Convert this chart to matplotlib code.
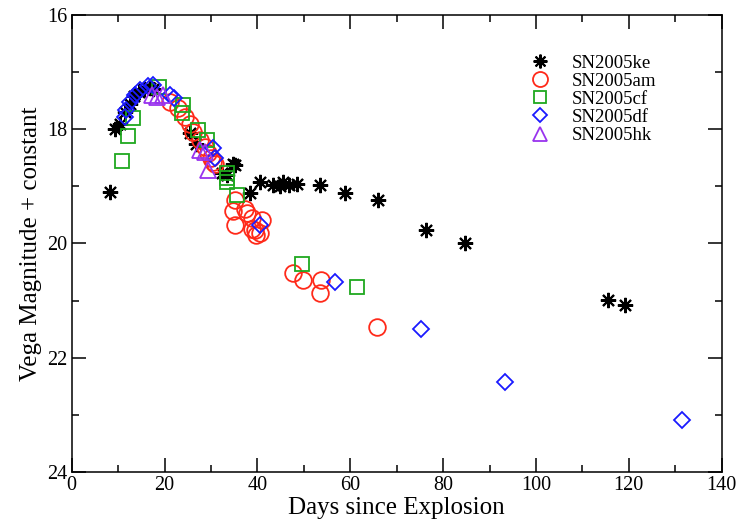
import matplotlib
matplotlib.use("Agg")
import matplotlib.pyplot as plt
from matplotlib.ticker import MultipleLocator

plt.rcParams['font.family'] = ['Liberation Serif', 'DejaVu Serif']

# SN2005ke
ke_day = [8.2, 9.3, 10.5, 11.5, 12.5, 13.5, 14.5, 15.5, 16.8, 17.5,
          25.5, 26.8, 32.3, 33.4, 34.8, 35.2, 38.4, 40.6, 43.4, 44.9,
          45.6, 46.7, 48.5, 53.5, 58.9, 66.0, 76.3, 84.7, 115.6, 119.2]
ke_mag = [19.09, 18.00, 17.90, 17.70, 17.55, 17.42, 17.35, 17.30, 17.28, 17.30,
          18.07, 18.25, 18.77, 18.80, 18.60, 18.63, 19.12, 18.92, 18.98, 19.00,
          18.92, 18.98, 18.95, 18.98, 19.11, 19.24, 19.77, 19.99, 20.99, 21.08]

# SN2005am
am_day = [21.2, 23.0, 24.4, 25.5, 26.2, 27.6, 28.7, 29.4, 30.1, 30.5,
          30.8, 34.8, 35.2, 35.2, 37.3, 37.7, 38.8, 38.8, 39.5, 39.8,
          40.6, 40.9, 47.7, 49.9, 53.5, 53.8, 65.7]
am_mag = [17.52, 17.63, 17.78, 17.90, 18.04, 18.19, 18.31, 18.42, 18.51, 18.57,
          18.60, 19.44, 19.24, 19.68, 19.39, 19.47, 19.56, 19.74, 19.77, 19.85,
          19.82, 19.59, 20.52, 20.64, 20.87, 20.64, 21.46]

# SN2005cf
cf_day = [10.9, 12.1, 13.3, 18.7, 23.7, 24.0, 27.3, 29.1, 33.4, 33.4,
          33.4, 35.5, 49.7, 61.4]
cf_mag = [18.56, 18.12, 17.80, 17.26, 17.72, 17.58, 18.01, 18.19, 18.77, 18.85,
          18.92, 19.15, 20.36, 20.76]

# SN2005df
df_day = [11.5, 11.8, 12.6, 13.6, 14.7, 16.5, 17.6, 21.2, 22.0, 30.5,
          30.9, 40.6, 56.7, 75.2, 93.3, 131.4]
df_mag = [17.78, 17.66, 17.52, 17.40, 17.31, 17.25, 17.23, 17.40, 17.45, 18.33,
          18.51, 19.68, 20.67, 21.49, 22.42, 23.09]

# SN2005hk
hk_day = [17.2, 18.3, 19.7, 27.6, 28.7, 29.4]
hk_mag = [17.40, 17.43, 17.40, 18.36, 18.39, 18.71]

fig = plt.figure(figsize=(7.46, 5.2), dpi=100)
ax = fig.add_axes([0.0961, 0.0923, 0.8713, 0.8789])

ax.plot(ke_day, ke_mag, ls='none', marker=(8, 2, 0), ms=11, mew=1.5,
        color='black', label='SN2005ke')
ax.plot(am_day, am_mag, ls='none', marker='o', ms=12, mew=1.3,
        mfc='none', mec='#ff2a1a', label='SN2005am')
ax.plot(cf_day, cf_mag, ls='none', marker='s', ms=10, mew=1.3,
        mfc='none', mec='#1fa81f', label='SN2005cf')
ax.plot(df_day, df_mag, ls='none', marker='D', ms=8, mew=1.3,
        mfc='none', mec='#1a1aff', label='SN2005df')
ax.plot(hk_day, hk_mag, ls='none', marker='^', ms=11, mew=1.3,
        mfc='none', mec='#9933ee', label='SN2005hk')

ax.set_xlim(0, 140)
ax.set_ylim(24, 16)
ax.xaxis.set_major_locator(MultipleLocator(20))
ax.xaxis.set_minor_locator(MultipleLocator(10))
ax.yaxis.set_major_locator(MultipleLocator(2))
ax.yaxis.set_minor_locator(MultipleLocator(1))
ax.tick_params(which='both', direction='in', top=True, right=True,
               labelsize=14.5, width=1.1)
ax.tick_params(which='major', length=10, pad=3)
ax.tick_params(which='minor', length=5)
for s in ax.spines.values():
    s.set_linewidth(1.1)

ax.set_xlabel('Days since Explosion', fontsize=18, labelpad=1)
ax.set_ylabel('Vega Magnitude + constant', fontsize=18, labelpad=4)

ax.legend(loc='upper right', bbox_to_anchor=(0.925, 0.95), frameon=False,
          fontsize=13.5, handletextpad=0.7, labelspacing=0.05,
          markerscale=0.9, numpoints=1)

fig.savefig('out.png', dpi=100)
